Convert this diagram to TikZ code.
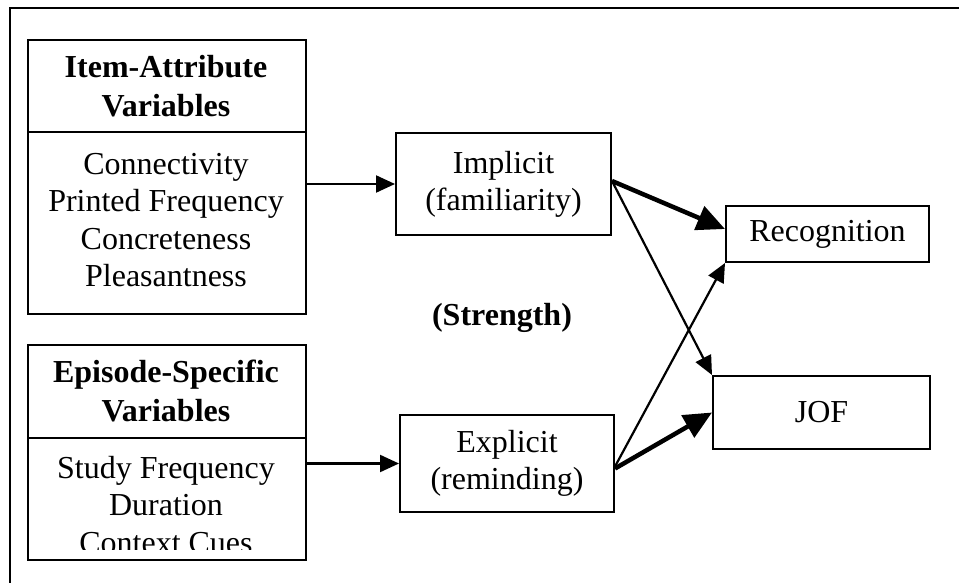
\documentclass[tikz,border=0pt]{standalone}
\usepackage{fontspec}
\setmainfont{Liberation Serif}
\usetikzlibrary{arrows.meta}
\begin{document}
\begin{tikzpicture}[x=1pt,y=-1pt,
  box/.style={draw, line width=2pt, inner sep=0pt, anchor=north west, align=center, font=\fontsize{32}{37}\selectfont},
  txt/.style={align=center, inner sep=0pt, font=\fontsize{32}{37.5}\selectfont},
  btxt/.style={align=center, inner sep=0pt, font=\fontsize{32}{39}\selectfont\bfseries},
  thinarrow/.style={line width=2.2pt, -{Triangle[length=19pt,width=17pt]}},
  thickarrow/.style={line width=4.5pt, -{Triangle[length=28pt,width=25pt]}}]
\useasboundingbox (0,0) rectangle (959,583);
\coordinate (fa) at (10,583);
\coordinate (fb) at (10,8);
\coordinate (fc) at (959,8);
\draw[line width=2pt] (fa) -- (fb) -- (fc);

% Item-Attribute box
\node[box, minimum width=278pt, minimum height=274pt] (ia) at (27,39) {};
\draw[line width=2pt] (ia.west |- 0,132) -- (ia.east |- 0,132);
\node[btxt] (iah) at (166,86) {Item-Attribute\\Variables};
\node[txt] (iab) at (166,220) {Connectivity\\Printed Frequency\\Concreteness\\Pleasantness};

% Episode-Specific box
\node[box, minimum width=278pt, minimum height=215pt] (es) at (27,344) {};
\draw[line width=2pt] (es.west |- 0,438) -- (es.east |- 0,438);
\node[btxt] (esh) at (166,391) {Episode-Specific\\Variables};
\begin{scope}
  \clip (0,0) rectangle (959,549);
  \node[txt] (esb) at (166,505) {Study Frequency\\Duration\\Context Cues};
\end{scope}

% middle boxes
\node[box, minimum width=215pt, minimum height=102pt] (imp) at (395,132) {Implicit\\(familiarity)};
\node[box, minimum width=214pt, minimum height=97pt] (exp) at (399,414) {Explicit\\(reminding)};
\node[btxt] (str) at (502,318) {(Strength)};

% right boxes
\node[box, minimum width=203pt, minimum height=56pt] (rec) at (725,205) {Recognition};
\node[box, minimum width=217pt, minimum height=73pt] (jof) at (712,375) {JOF};

% connectors
\draw[thinarrow] (imp.west -| ia.east) -- (imp.west);
\draw[thinarrow] (exp.west -| es.east) -- (exp.west);
\draw[thickarrow] ([yshift=3pt]imp.east) -- ([yshift=5pt]rec.west);
\draw[thinarrow] ([yshift=3pt]imp.east) -- (jof.north west);
\draw[thinarrow] ([yshift=-3pt]exp.east) -- (rec.south west);
\draw[thickarrow] ([yshift=-5pt]exp.east) -- (jof.west);
\end{tikzpicture}
\end{document}
